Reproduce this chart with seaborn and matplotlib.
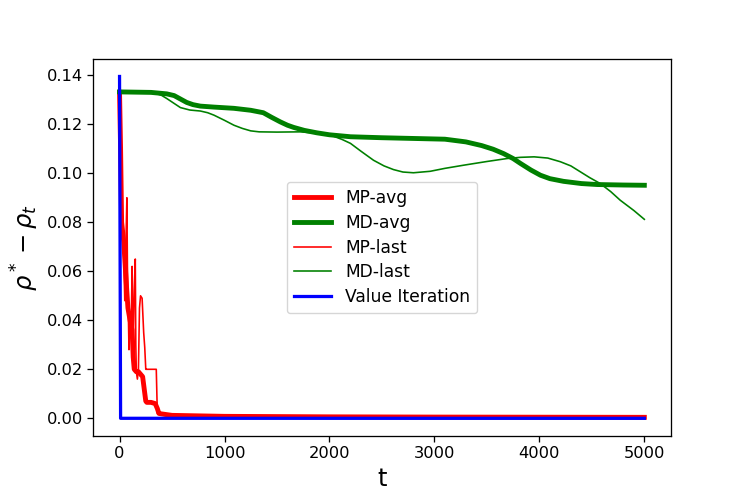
import numpy as np
import pandas as pd
import matplotlib
matplotlib.use("Agg")
import matplotlib.pyplot as plt
import seaborn as sns

# ---- data ----
mp_avg_t = [0, 10, 20, 40, 60, 80, 100, 120, 130, 140, 160, 180, 200, 220, 235, 250,
            260, 300, 340, 360, 375, 400, 500, 1000, 2000, 3000, 5000]
mp_avg_v = [0.133, 0.110, 0.080, 0.072, 0.058, 0.045, 0.040, 0.036, 0.025, 0.020, 0.019,
            0.019, 0.018, 0.017, 0.012, 0.007, 0.0065, 0.0065, 0.006, 0.004, 0.002, 0.0018,
            0.0012, 0.0008, 0.0006, 0.0005, 0.0004]

md_avg_t = [0, 300, 450, 520, 580, 640, 700, 770, 900, 1090, 1250, 1370, 1450, 1530, 1600,
            1660, 1760, 1880, 2000, 2200, 2500, 2700, 3100, 3300, 3450, 3560, 3660, 3750,
            3820, 3920, 4010, 4100, 4230, 4400, 4550, 4800, 5000]
md_avg_v = [0.1332, 0.1330, 0.1324, 0.1317, 0.1303, 0.1289, 0.1280, 0.1274, 0.1270, 0.1265,
            0.1257, 0.1247, 0.1228, 0.1210, 0.1196, 0.1187, 0.1175, 0.1165, 0.1157, 0.1149,
            0.1145, 0.1143, 0.1139, 0.1128, 0.1113, 0.1098, 0.1080, 0.1060, 0.1040, 0.1013,
            0.0992, 0.0978, 0.0967, 0.0958, 0.0954, 0.0952, 0.0951]

mp_last_t = [0, 5, 10, 20, 30, 40, 50, 60, 70, 75, 80, 90, 100, 110, 120, 125, 130, 140,
             150, 155, 160, 170, 180, 190, 200, 215, 230, 240, 250, 260, 280, 300, 330,
             350, 360, 380, 450, 600, 1000, 2000, 3000, 5000]
mp_last_v = [0.133, 0.118, 0.100, 0.085, 0.075, 0.066, 0.048, 0.070, 0.090, 0.062, 0.052,
             0.028, 0.040, 0.035, 0.062, 0.040, 0.030, 0.052, 0.065, 0.030, 0.019, 0.016,
             0.020, 0.045, 0.050, 0.049, 0.035, 0.029, 0.020, 0.020, 0.020, 0.020, 0.020,
             0.020, 0.002, 0.0015, 0.001, 0.0008, 0.0006, 0.0005, 0.0004, 0.0003]

md_last_t = [0, 320, 400, 450, 520, 580, 670, 770, 840, 900, 1000, 1090, 1170, 1250, 1330,
             1500, 1720, 1900, 2040, 2120, 2200, 2300, 2420, 2520, 2610, 2700, 2800, 2960,
             3100, 3280, 3500, 3690, 3820, 3950, 4080, 4200, 4300, 4390, 4480, 4580, 4680,
             4770, 4900, 5000]
md_last_v = [0.1332, 0.1330, 0.1318, 0.1305, 0.1285, 0.1268, 0.1258, 0.1254, 0.1247, 0.1237,
             0.1216, 0.1196, 0.1183, 0.1173, 0.1169, 0.1168, 0.1169, 0.1163, 0.1151, 0.1138,
             0.1122, 0.1090, 0.1053, 0.1030, 0.1015, 0.1005, 0.1002, 0.1008, 0.1020, 0.1033,
             0.1048, 0.1060, 0.1065, 0.1067, 0.1062, 0.1047, 0.1030, 0.1006, 0.0982, 0.0958,
             0.0925, 0.0890, 0.0848, 0.0812]

vi_t = [0, 10, 5000]
vi_v = [0.1395, 0.0, 0.0]

x_ticks = [0, 1000, 2000, 3000, 4000, 5000]
y_ticks = [0.00, 0.02, 0.04, 0.06, 0.08, 0.10, 0.12, 0.14]

# ---- figure ----
S = 1.167
plt.rcParams.update({
    "font.family": ["DejaVu Sans"],
    "axes.linewidth": 0.8 * S,
    "xtick.major.width": 0.8 * S,
    "ytick.major.width": 0.8 * S,
    "xtick.major.size": 3.5 * S,
    "ytick.major.size": 3.5 * S,
    "xtick.labelsize": 10 * S,
    "ytick.labelsize": 10 * S,
    "mathtext.fontset": "dejavusans",
})

fig = plt.figure(figsize=(7.47, 4.98), dpi=100)
ax = fig.add_axes([0.1249, 0.1251, 0.7728, 0.7558])

sns.lineplot(x=mp_avg_t, y=mp_avg_v, ax=ax, color="red", lw=3 * S, label="MP-avg")
sns.lineplot(x=md_avg_t, y=md_avg_v, ax=ax, color="green", lw=3 * S, label="MD-avg")
sns.lineplot(x=mp_last_t, y=mp_last_v, ax=ax, color="red", lw=1 * S, label="MP-last")
sns.lineplot(x=md_last_t, y=md_last_v, ax=ax, color="green", lw=1 * S, label="MD-last")
sns.lineplot(x=vi_t, y=vi_v, ax=ax, color="blue", lw=2 * S, label="Value Iteration")

ax.set_xticks(x_ticks)
ax.set_yticks(y_ticks)
ax.set_xlim(-250, 5250)
ax.set_ylim(-0.0071, 0.1465)
ax.set_xlabel("t", fontsize=15 * S)
ax.set_ylabel(r"$\rho^* - \rho_t$", fontsize=15 * S)
ax.legend(loc="center", fontsize=12.3, frameon=True, handlelength=2.2, labelspacing=0.4)

fig.savefig("out.png", dpi=100)
